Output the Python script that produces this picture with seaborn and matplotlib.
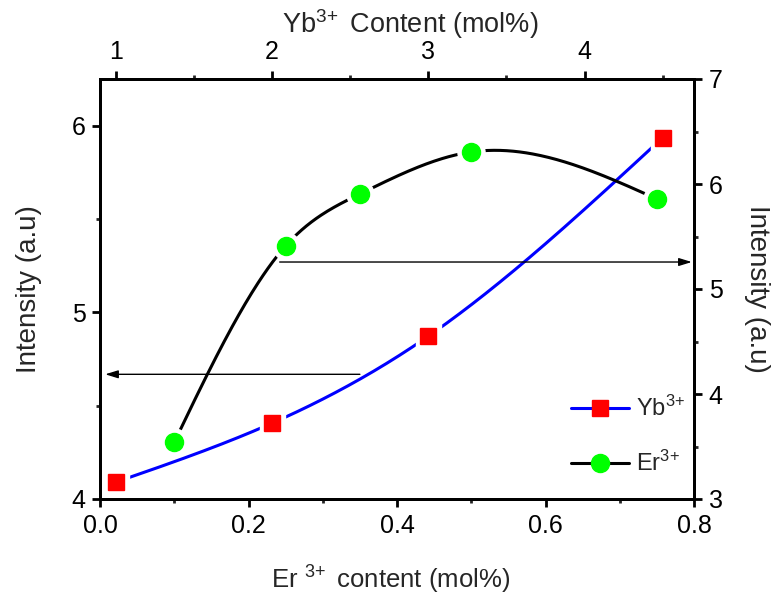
import numpy as np
import matplotlib
matplotlib.use("Agg")
import matplotlib.pyplot as plt
import seaborn as sns
import pandas as pd
from matplotlib.lines import Line2D
from matplotlib.ticker import MultipleLocator, FixedLocator
from matplotlib import font_manager

# ---------------- data ----------------
yb_content = [1.0, 2.0, 3.0, 4.5]                    # top axis (mol%)
yb_intensity = [4.09, 4.406, 4.872, 5.936]           # left axis
er_content = [0.10, 0.25, 0.35, 0.50, 0.75]          # bottom axis (mol%)
er_intensity = [3.54, 5.41, 5.905, 6.305, 5.857]     # right axis

bottom_ticks = [0.0, 0.2, 0.4, 0.6, 0.8]
top_ticks = [1, 2, 3, 4]
left_ticks = [4, 5, 6]
right_ticks = [3, 4, 5, 6, 7]
legend_labels = [r"Yb$^{3\!+}$", r"Er$^{3\!+}$"]

sns.set_theme(style="ticks")
plt.rcParams["font.family"] = ["Liberation Sans", "DejaVu Sans"]
plt.rcParams["mathtext.default"] = "regular"

names = {f.name for f in font_manager.fontManager.ttflist}
narrow = "Liberation Sans Narrow" if "Liberation Sans Narrow" in names else "Liberation Sans"


def natural_spline(x, y, n=300):
    x = np.asarray(x, float)
    y = np.asarray(y, float)
    k = len(x)
    h = np.diff(x)
    A = np.zeros((k, k))
    r = np.zeros(k)
    A[0, 0] = A[-1, -1] = 1
    for i in range(1, k - 1):
        A[i, i - 1] = h[i - 1]
        A[i, i] = 2 * (h[i - 1] + h[i])
        A[i, i + 1] = h[i]
        r[i] = 3 * ((y[i + 1] - y[i]) / h[i] - (y[i] - y[i - 1]) / h[i - 1])
    c = np.linalg.solve(A, r)
    b = (y[1:] - y[:-1]) / h - h * (2 * c[:-1] + c[1:]) / 3
    d = (c[1:] - c[:-1]) / (3 * h)
    xs = np.linspace(x[0], x[-1], n)
    idx = np.clip(np.searchsorted(x, xs) - 1, 0, k - 2)
    dx = xs - x[idx]
    ys = y[idx] + b[idx] * dx + c[idx] * dx ** 2 + d[idx] * dx ** 3
    return xs, ys


W, H = 772, 598
fig = plt.figure(figsize=(W / 100, H / 100), dpi=100)
fig.patch.set_facecolor("white")
ax = fig.add_axes([100 / W, 1 - 499 / H, 594 / W, 420 / H])
ax_top = ax.twiny()
ax_right = ax.twinx()

# limits
ax.set_xlim(0.0, 0.8)
ax.set_ylim(4.0, 6.25)
ax_top.set_xlim(0.9, 4.7)
ax_right.set_ylim(3.0, 7.0)

LW = 2.2
# Yb series on top / left axes
xs, ys = natural_spline(yb_content, yb_intensity)
sns.lineplot(x=xs, y=ys, ax=ax_top, color="#0000FF", lw=LW, sort=False, zorder=2)
ax_top.plot(yb_content, yb_intensity, ls="none", marker="s", ms=18, mfc="white",
            mec="white", zorder=3)
ax_top.plot(yb_content, yb_intensity, ls="none", marker="s", ms=11.5, mfc="#FF0000",
            mec="#FF0000", zorder=4)

# Er series on bottom / right axes
xs2, ys2 = natural_spline(er_content, er_intensity)
sns.lineplot(x=xs2, y=ys2, ax=ax_right, color="black", lw=LW, sort=False, zorder=2)
ax_right.plot(er_content, er_intensity, ls="none", marker="o", ms=19.5, mfc="white",
              mec="white", zorder=3)
ax_right.plot(er_content, er_intensity, ls="none", marker="o", ms=13, mfc="#00FF00",
              mec="#00FF00", zorder=4)

# arrows
aprops = dict(arrowstyle="-|>,head_length=0.55,head_width=0.17", color="black",
              lw=1.0, shrinkA=0, shrinkB=0, mutation_scale=14)
ax.annotate("", xy=(0.007, 4.668), xytext=(0.35, 4.668), arrowprops=aprops, zorder=5)
ax_right.annotate("", xy=(0.797, 5.257), xytext=(0.242, 5.257), arrowprops=aprops, zorder=5)

# ticks
TICKFS = 18
for a in (ax, ax_top, ax_right):
    a.grid(False)
    for s in a.spines.values():
        s.set_linewidth(2.0)
        s.set_color("black")
    a.tick_params(which="major", direction="out", length=5.5, width=2.0,
                  labelsize=TICKFS, colors="black", pad=5)
    a.tick_params(which="minor", direction="out", length=3.2, width=2.0)

ax.xaxis.set_major_locator(FixedLocator(bottom_ticks))
ax.xaxis.set_minor_locator(MultipleLocator(0.1))
ax.set_xticklabels([f"{t:.1f}" for t in bottom_ticks])
ax.yaxis.set_major_locator(FixedLocator(left_ticks))
ax.yaxis.set_minor_locator(MultipleLocator(0.5))
ax.set_yticklabels([str(t) for t in left_ticks])
ax_top.xaxis.set_major_locator(FixedLocator(top_ticks))
ax_top.xaxis.set_minor_locator(MultipleLocator(0.5))
ax_top.set_xticklabels([str(t) for t in top_ticks])
ax_right.yaxis.set_major_locator(FixedLocator(right_ticks))
ax_right.yaxis.set_minor_locator(MultipleLocator(0.5))
ax_right.set_yticklabels([str(t) for t in right_ticks])

# labels
ax.set_xlabel(r"Er $^{3\!+}$ content (mol%)", fontsize=18.5, family=narrow, labelpad=19)
ax.xaxis.label.set_x(0.49)
ax.set_ylabel("Intensity (a.u)", fontsize=20, labelpad=21)
ax_top.set_xlabel(r"Yb$^{3\!+}$ Content (mol%)", fontsize=19.5, labelpad=5)
ax_top.xaxis.label.set_x(0.522)
ax_right.set_ylabel("Intensity (a.u)", fontsize=20, rotation=270, labelpad=34)

# legend
handles = [
    Line2D([], [], color="#0000FF", lw=LW, marker="s", ms=11.5, mfc="#FF0000", mec="#FF0000"),
    Line2D([], [], color="black", lw=LW, marker="o", ms=13, mfc="#00FF00", mec="#00FF00"),
]
leg = ax_right.legend(handles, legend_labels, loc="upper left",
                      bbox_to_anchor=(571 / W, 1 - 396 / H), bbox_transform=fig.transFigure,
                      frameon=False, fontsize=17, handlelength=2.45, handletextpad=0.3,
                      labelspacing=1.25, borderpad=0, borderaxespad=0)

fig.savefig("out.png", dpi=100, facecolor="white")
